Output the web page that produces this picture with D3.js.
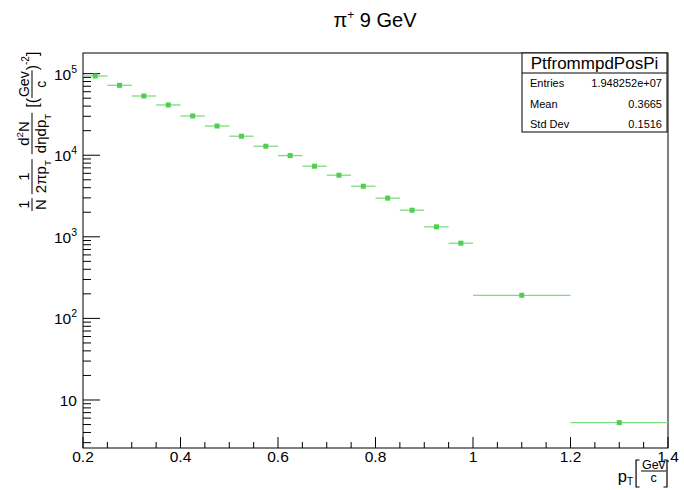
<!DOCTYPE html>
<html>
<head>
<meta charset="utf-8">
<script src="https://cdn.jsdelivr.net/npm/d3@7"></script>
<style>
  body { margin: 0; background: #fff; }
  svg { display: block; font-family: "Liberation Sans", Arial, sans-serif; }
</style>
</head>
<body>
<svg id="chart" width="684" height="490"></svg>
<script>
// bin edges and contents
const binLow  = [0.20, 0.25, 0.30, 0.35, 0.40, 0.45, 0.50, 0.55, 0.60, 0.65, 0.70, 0.75, 0.80, 0.85, 0.90, 0.95, 1.00, 1.20];
const binHigh = [0.25, 0.30, 0.35, 0.40, 0.45, 0.50, 0.55, 0.60, 0.65, 0.70, 0.75, 0.80, 0.85, 0.90, 0.95, 1.00, 1.20, 1.40];
const binValue = [93500, 71900, 53200, 41300, 30300, 22800, 17100, 12900, 9900, 7330, 5690, 4170, 2980, 2120, 1325, 836, 192, 5.28];

const xTicks = [0.2, 0.4, 0.6, 0.8, 1.0, 1.2, 1.4];
const xTickLabels = ["0.2", "0.4", "0.6", "0.8", "1", "1.2", "1.4"];
const yDecades = [10, 100, 1000, 10000, 100000];
const yDecadeExp = ["", "2", "3", "4", "5"];

const statsNames = ["Entries", "Mean", "Std Dev"];
const statsValues = ["1.948252e+07", "0.3665", "0.1516"];

const svg = d3.select("#chart");
const frame = { left: 83, right: 668, top: 53, bottom: 448 };

const x = d3.scaleLinear().domain([0.2, 1.4]).range([frame.left, frame.right]);
const y = d3.scaleLog().domain([2.58, 1.79e5]).range([frame.bottom, frame.top]);

const green = "#4fcf4f";

// frame
svg.append("rect")
  .attr("x", frame.left).attr("y", frame.top)
  .attr("width", frame.right - frame.left).attr("height", frame.bottom - frame.top)
  .attr("fill", "none").attr("stroke", "#000").attr("stroke-width", 1);

// x ticks: major every 0.2, minor every 0.05
const xMinor = d3.range(0, 25).map(i => 0.2 + i * 0.05).filter(v => v <= 1.4001);
svg.append("g").selectAll("line")
  .data(xMinor)
  .join("line")
  .attr("x1", d => x(d)).attr("x2", d => x(d))
  .attr("y1", frame.bottom)
  .attr("y2", (d, i) => frame.bottom - (i % 4 === 0 ? 11 : 6))
  .attr("stroke", "#000");

svg.append("g").selectAll("text")
  .data(xTicks)
  .join("text")
  .attr("x", d => x(d)).attr("y", 462)
  .attr("text-anchor", "middle")
  .attr("font-size", 15.5)
  .text((d, i) => xTickLabels[i]);

// y ticks (log): major at decades, minor 2..9
const [yMin, yMax] = y.domain();
const yMinor = [];
for (let e = 0; e <= 5; e++) {
  for (let m = 2; m <= 9; m++) {
    const v = m * Math.pow(10, e);
    if (v >= yMin && v <= yMax) yMinor.push(v);
  }
}
svg.append("g").selectAll("line")
  .data(yMinor)
  .join("line")
  .attr("x1", frame.left).attr("x2", frame.left + 8)
  .attr("y1", d => y(d)).attr("y2", d => y(d))
  .attr("stroke", "#000");
svg.append("g").selectAll("line")
  .data(yDecades)
  .join("line")
  .attr("x1", frame.left).attr("x2", frame.left + 17)
  .attr("y1", d => y(d)).attr("y2", d => y(d))
  .attr("stroke", "#000");

const yLab = svg.append("g").selectAll("text")
  .data(yDecades)
  .join("text")
  .attr("x", 77).attr("y", d => y(d) + 6)
  .attr("text-anchor", "end")
  .attr("font-size", 15.5);
yLab.append("tspan").text("10");
yLab.append("tspan")
  .attr("font-size", 10.5).attr("dy", -7)
  .text((d, i) => yDecadeExp[i]);

// data: horizontal bin-width error bars + square markers
const pts = binValue.map((v, i) => ({ lo: binLow[i], hi: binHigh[i], v: v }));
svg.append("g").selectAll("line")
  .data(pts)
  .join("line")
  .attr("x1", d => x(d.lo)).attr("x2", d => x(d.hi))
  .attr("y1", d => y(d.v)).attr("y2", d => y(d.v))
  .attr("stroke", "#7fdc7f").attr("stroke-width", 1.3);
svg.append("g").selectAll("rect")
  .data(pts)
  .join("rect")
  .attr("x", d => x((d.lo + d.hi) / 2) - 2.5)
  .attr("y", d => y(d.v) - 2.5)
  .attr("width", 5).attr("height", 5)
  .attr("fill", green);

// title
const title = svg.append("text")
  .attr("x", 375).attr("y", 27)
  .attr("text-anchor", "middle")
  .attr("font-size", 20);
title.append("tspan").text("\u03c0");
title.append("tspan").attr("font-size", 12).attr("dy", -8).text("+");
title.append("tspan").attr("dy", 8).text(" 9 GeV");

// stats box
const box = { left: 522, right: 667, top: 53, sep: 73, bottom: 132 };
svg.append("rect")
  .attr("x", box.left).attr("y", box.top)
  .attr("width", box.right - box.left).attr("height", box.bottom - box.top)
  .attr("fill", "#fff").attr("stroke", "#000");
svg.append("line")
  .attr("x1", box.left).attr("x2", box.right)
  .attr("y1", box.sep).attr("y2", box.sep)
  .attr("stroke", "#000");
svg.append("text")
  .attr("x", (box.left + box.right) / 2).attr("y", 69)
  .attr("text-anchor", "middle").attr("font-size", 17)
  .text("PtfrommpdPosPi");
const rowY = d3.scalePoint().domain(statsNames).range([87, 128]);
svg.append("g").selectAll("text")
  .data(statsNames)
  .join("text")
  .attr("x", 530).attr("y", d => rowY(d))
  .attr("font-size", 11)
  .text(d => d);
svg.append("g").selectAll("text")
  .data(statsNames)
  .join("text")
  .attr("x", 662).attr("y", d => rowY(d))
  .attr("text-anchor", "end")
  .attr("font-size", 11)
  .text((d, i) => statsValues[i]);

// helper: stacked fraction, bar on y=0, starting at px; returns end x
function fraction(g, px, num, den, size, gap) {
  const n = g.append("text").attr("y", -gap).attr("font-size", size).attr("text-anchor", "middle");
  n.append("tspan").text(num[0]);
  if (num[1]) n.append("tspan").attr("font-size", size * 0.65).attr("dy", -size * 0.4).text(num[1]);
  if (num[2]) n.append("tspan").attr("dy", size * 0.4).text(num[2]);
  const d = g.append("text").attr("y", size * 0.75 + gap).attr("font-size", size).attr("text-anchor", "middle");
  d.append("tspan").text(den[0]);
  if (den[1]) d.append("tspan").attr("font-size", size * 0.65).attr("dy", size * 0.3).text(den[1]);
  const w = Math.max(n.node().getComputedTextLength(), d.node().getComputedTextLength()) + 2;
  n.attr("x", px + w / 2);
  d.attr("x", px + w / 2);
  g.append("line")
    .attr("x1", px).attr("x2", px + w)
    .attr("y1", 0).attr("y2", 0)
    .attr("stroke", "#000").attr("stroke-width", 1);
  return px + w;
}

// tall square bracket drawn as a path; side = 1 opens right, -1 opens left
function bracket(g, px, top, bottom, side) {
  const arm = 3.5;
  g.append("path")
    .attr("d", side > 0
      ? `M${px + arm},${top}H${px}V${bottom}H${px + arm}`
      : `M${px - arm},${top}H${px}V${bottom}H${px - arm}`)
    .attr("fill", "none").attr("stroke", "#000").attr("stroke-width", 1.2);
}

// y axis title (rotated)
const yt = svg.append("g").attr("transform", "translate(32,211) rotate(-90)");
let cx = 0;
cx = fraction(yt, cx, ["1"], ["N"], 15, 3) + 4;
cx = fraction(yt, cx, ["1"], ["2\u03c0p", "T"], 15, 3) + 5;
cx = fraction(yt, cx, ["d", "2", "N"], ["d\u03b7dp", "T"], 15, 3) + 5;
const br = yt.append("text").attr("x", cx).attr("y", 6).attr("font-size", 16).text("[(");
cx += br.node().getComputedTextLength();
cx = fraction(yt, cx, ["Gev"], ["c"], 14, 3);
const br2 = yt.append("text").attr("x", cx).attr("y", 6).attr("font-size", 16);
br2.append("tspan").text(")");
br2.append("tspan").attr("font-size", 10).attr("dy", -9).text("-2");
br2.append("tspan").attr("dy", 9).text("]");

// x axis title, right-aligned at the frame edge (bar on local y = 0)
const xt = svg.append("g");
const pt = xt.append("text").attr("x", 0).attr("y", 11).attr("font-size", 16.5);
pt.append("tspan").text("p");
pt.append("tspan").attr("font-size", 10).attr("dy", 3).text("T");
let xx = pt.node().getComputedTextLength() + 3;
bracket(xt, xx, -11, 16, 1);
xx += 5;
xx = fraction(xt, xx, ["Gev"], ["c"], 12.5, 1.8);
xx += 1;
bracket(xt, xx, -11, 16, -1);
xx += 1;
xt.attr("transform", `translate(${frame.right - xx},471)`);
</script>
</body>
</html>
